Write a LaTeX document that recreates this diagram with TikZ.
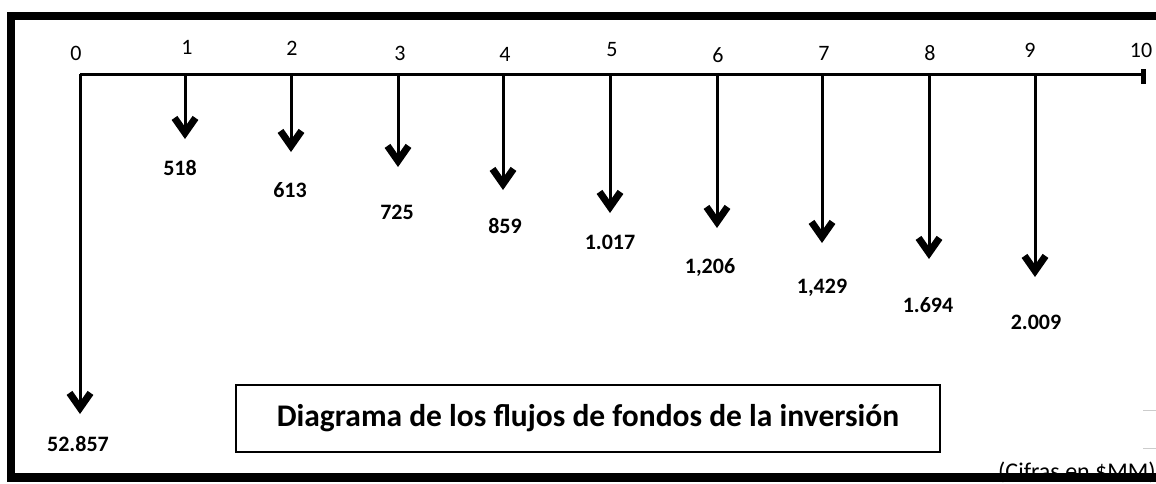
\documentclass[tikz,border=0pt]{standalone}
\usepackage{fontspec}
\setmainfont{Carlito}
\usetikzlibrary{arrows.meta}
\tikzset{
  frame/.style={line width=8.5pt, line cap=butt},
  axis/.style={line width=3pt},
  flow/.style={line width=3pt, -{Straight Barb[length=15pt,width=21pt,line width=7pt]}},
  tick/.style={font=\fontsize{22}{26}\selectfont, inner sep=0pt},
  val/.style={font=\fontsize{22}{26}\selectfont\bfseries, inner sep=0pt},
  titlebox/.style={draw, line width=1.3pt, minimum width=704pt, minimum height=67pt, inner sep=0pt, font=\fontsize{31.5}{36}\selectfont\bfseries},
}
\begin{document}
\begin{tikzpicture}[x=1pt,y=-1pt]
\useasboundingbox (0,0) rectangle (1156,483);
\begin{scope}
\clip (0,0) rectangle (1156,483);
% note
\node[anchor=north west, inner sep=0pt, font=\fontsize{24}{28}\selectfont] (note) at (998,462) {(Cifras en \$MM)};
% frame
\draw[frame] (1156,16) -- (11,16) -- (11,477.5) -- (1156,477.5);
\end{scope}
% small grey marks
\draw[gray!40, line width=1pt] (1143,410) -- (1156,410);
\draw[gray!40, line width=1pt] (1143,448) -- (1156,448);
% axis coordinates
\foreach \i/\x in {0/80,1/185,2/291,3/398,4/503,5/610,6/717,7/822,8/929,9/1035,10/1143}
  \coordinate (t\i) at (\x,74);
\draw[axis] (t0) -- (t10);
\draw[line width=5pt] (1143,69) -- (1143,84);
% tick labels
\node[tick] (l0) at (76,53) {0};
\node[tick] (l1) at (187,47) {1};
\node[tick] (l2) at (292,48) {2};
\node[tick] (l3) at (400,53) {3};
\node[tick] (l4) at (505,54) {4};
\node[tick] (l5) at (612,50) {5};
\node[tick] (l6) at (718,55) {6};
\node[tick] (l7) at (824,53) {7};
\node[tick] (l8) at (930,53) {8};
\node[tick] (l9) at (1030,50) {9};
\node[tick] (l10) at (1141,50) {10};
% arrow ends
\coordinate (e0) at (80,414);
\coordinate (e1) at (185,139);
\coordinate (e2) at (291,152);
\coordinate (e3) at (398,167);
\coordinate (e4) at (503,190);
\coordinate (e5) at (610,213);
\coordinate (e6) at (717,228);
\coordinate (e7) at (822,243);
\coordinate (e8) at (929,259);
\coordinate (e9) at (1035,277);
\foreach \i in {0,...,9} \draw[flow] (t\i) -- (e\i);
% values
\node[val] (v0) at (78,444) {52.857};
\node[val] (v1) at (180,168) {518};
\node[val] (v2) at (290,190) {613};
\node[val] (v3) at (397,212) {725};
\node[val] (v4) at (505,226) {859};
\node[val] (v5) at (610,242) {1.017};
\node[val] (v6) at (710,267) {1,206};
\node[val] (v7) at (822,288) {1,429};
\node[val] (v8) at (928,305) {1.694};
\node[val] (v9) at (1036,322) {2.009};
% title
\node[titlebox] (title) at (588,418.5) {Diagrama de los flujos de fondos de la inversión};
\end{tikzpicture}
\end{document}
